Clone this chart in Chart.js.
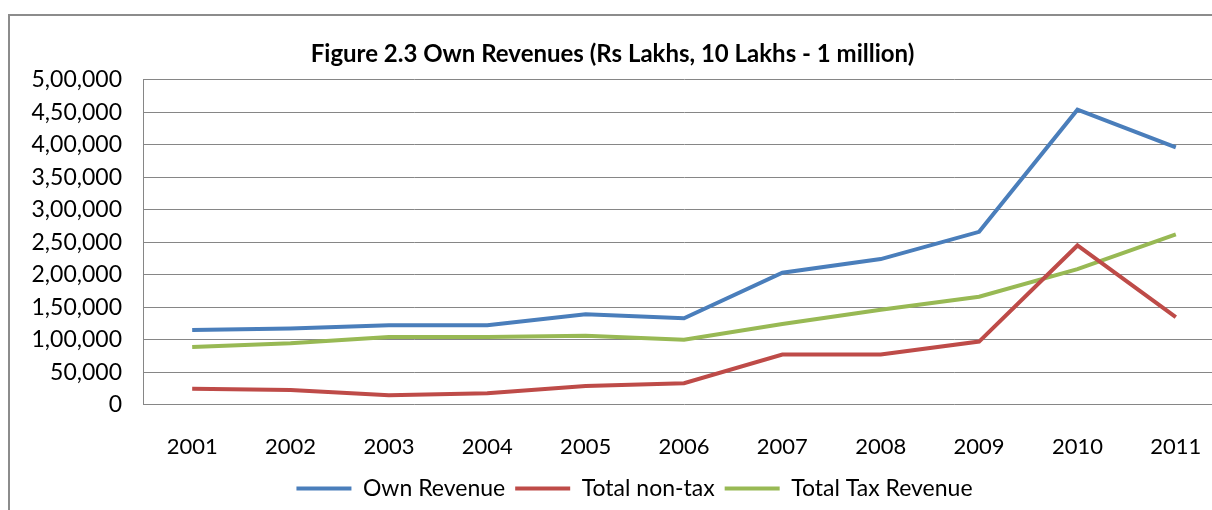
<!DOCTYPE html>
<html>
<head>
<meta charset="utf-8">
<script src="https://cdn.jsdelivr.net/npm/chart.js@4/dist/chart.umd.min.js"></script>
<style>
  html, body { margin: 0; padding: 0; background: #fff; overflow: hidden; }
  #wrap { position: absolute; left: 0; top: 0; width: 1228px; height: 510px; }
</style>
</head>
<body>
<div id="wrap"><canvas id="revChart" width="1228" height="510"></canvas></div>
<script>
const years = ['2001', '2002', '2003', '2004', '2005', '2006', '2007', '2008', '2009', '2010', '2011'];
const ownRevenue = [115000, 117000, 122000, 122000, 139000, 133000, 203000, 224000, 266000, 454000, 396000];
const nonTax = [24500, 22500, 14500, 17500, 28500, 33000, 77000, 77000, 97000, 245000, 134500];
const taxRevenue = [88500, 94500, 104000, 104000, 106000, 100000, 124000, 146000, 166000, 208500, 262000];
const seriesNames = ['Own Revenue', 'Total non-tax', 'Total Tax Revenue'];
const seriesColors = ['#4a7ebb', '#be4b48', '#98b954'];

// Indian grouping: 5,00,000
function formatLakh(v) {
    const s = String(Math.round(v));
    if (s.length <= 3) return s;
    let last3 = s.slice(-3);
    let rest = s.slice(0, -3);
    const parts = [];
    while (rest.length > 2) {
        parts.unshift(rest.slice(-2));
        rest = rest.slice(0, -2);
    }
    if (rest) parts.unshift(rest);
    return parts.join(',') + ',' + last3;
}

const framePlugin = {
    id: 'frame',
    beforeDraw(chart) {
        const ctx = chart.ctx;
        ctx.save();
        ctx.strokeStyle = '#8c8c8c';
        ctx.lineWidth = 2;
        ctx.beginPath();
        ctx.moveTo(9, 600);
        ctx.lineTo(9, 15);
        ctx.lineTo(1300, 15);
        ctx.stroke();
        ctx.restore();
    },
    afterLayout(chart) {
        // legend sits a little right of centre in the original
        chart.legend.left += 22;
        chart.legend.right += 22;
    }
};

const fontFamily = 'Lato, "Open Sans", sans-serif';

const makeSet = (label, data, color) => ({
    label: label,
    data: data,
    borderColor: color,
    backgroundColor: color,
    borderWidth: 4,
    pointRadius: 0,
    tension: 0,
    pointStyle: 'line'
});

new Chart(document.getElementById('revChart'), {
    type: 'line',
    data: {
        labels: years,
        datasets: [
            makeSet(seriesNames[0], ownRevenue, seriesColors[0]),
            makeSet(seriesNames[1], nonTax, seriesColors[1]),
            makeSet(seriesNames[2], taxRevenue, seriesColors[2])
        ]
    },
    options: {
        responsive: false,
        animation: false,
        layout: { padding: { left: 0, right: 3, top: 0, bottom: 0 } },
        scales: {
            x: {
                offset: true,
                grid: { display: false },
                border: { display: false },
                ticks: {
                    color: '#000',
                    padding: 21,
                    maxRotation: 0,
                    font: { family: fontFamily, size: 22 }
                },
                afterFit(scale) { scale.height -= 14; }
            },
            y: {
                min: 0,
                max: 500000,
                grid: { color: '#868686', lineWidth: 1, drawTicks: false },
                border: { display: true, color: '#868686', width: 1 },
                ticks: {
                    count: 11,
                    color: '#000',
                    padding: 21,
                    font: { family: fontFamily, size: 23 },
                    callback: (v) => formatLakh(v)
                },
                afterFit(scale) { scale.width = 143; }
            }
        },
        plugins: {
            title: {
                display: true,
                text: 'Figure 2.3 Own Revenues (Rs Lakhs, 10 Lakhs - 1 million)',
                color: '#000',
                font: { family: fontFamily, size: 24, weight: 'bold' },
                padding: { top: 40, bottom: 11 }
            },
            legend: {
                position: 'bottom',
                labels: {
                    usePointStyle: true,
                    pointStyleWidth: 55,
                    color: '#000',
                    padding: 10,
                    font: { family: fontFamily, size: 23 }
                }
            },
            tooltip: { enabled: false }
        }
    },
    plugins: [framePlugin]
});
</script>
</body>
</html>
